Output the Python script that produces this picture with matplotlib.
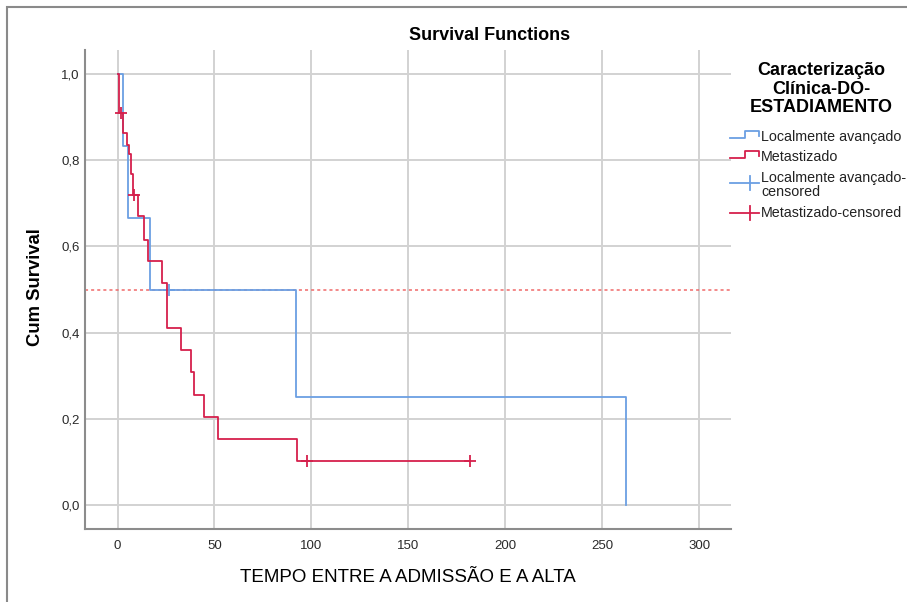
import matplotlib
matplotlib.use("Agg")
import matplotlib.pyplot as plt
from matplotlib.lines import Line2D
from matplotlib.patches import Rectangle

plt.rcParams['font.family'] = ['Liberation Sans', 'DejaVu Sans']

# Kaplan-Meier steps: time of each drop and survival level after it
loc_times = [0, 3.0, 5.6, 16.8, 91.9, 262.5]
loc_surv = [1.0, 0.833, 0.667, 0.5, 0.25, 0.0]
loc_cens_t = [26.7]
loc_cens_s = [0.5]

met_times = [0, 0.5, 2.6, 4.7, 5.7, 6.9, 8.1, 10.7, 13.8, 15.6, 22.8, 25.5,
             32.7, 38.0, 39.6, 44.8, 52.0, 92.7, 182.0]
met_surv = [1.0, 0.909, 0.864, 0.836, 0.815, 0.767, 0.72, 0.67, 0.615, 0.566,
            0.514, 0.411, 0.359, 0.308, 0.256, 0.205, 0.154, 0.103, 0.103]
met_cens_t = [1.6, 8.6, 97.6, 182.0]
met_cens_s = [0.909, 0.72, 0.103, 0.103]

median_ref = 0.5
xticks = [0, 50, 100, 150, 200, 250, 300]
yticks = [0.0, 0.2, 0.4, 0.6, 0.8, 1.0]
ytick_labels = ['0,0', '0,2', '0,4', '0,6', '0,8', '1,0']

blue = '#6b9fe3'
red = '#d5204c'

fig = plt.figure(figsize=(9.07, 6.02), dpi=100)
W, H = 907, 602
ax = fig.add_axes([85 / W, 1 - 529 / H, (731 - 85) / W, (529 - 50) / H])

ax.step(loc_times, loc_surv, where='post', color=blue, lw=1.3, zorder=3)
ax.step(met_times, met_surv, where='post', color=red, lw=1.3, zorder=4)
ax.plot(loc_cens_t, loc_cens_s, '+', color=blue, ms=9, mew=1.3, zorder=3)
ax.plot(met_cens_t, met_cens_s, '+', color=red, ms=9, mew=1.3, zorder=4)
ax.axhline(median_ref, color='#f06a6a', lw=1.1, ls=(0, (2, 2)), zorder=2)

ax.set_xlim(-16.8, 316.5)
ax.set_ylim(-0.056, 1.056)
ax.set_xticks(xticks)
ax.set_yticks(yticks)
ax.set_yticklabels(ytick_labels)
ax.tick_params(length=0, labelsize=9.5, labelcolor='#2a2a2a')
ax.tick_params(axis='x', pad=8)
ax.tick_params(axis='y', pad=4)
ax.grid(True, color='#d2d2d2', lw=1.4)
ax.set_axisbelow(True)
for side in ['top', 'right']:
    ax.spines[side].set_visible(False)
for side in ['left', 'bottom']:
    ax.spines[side].set_color('#8c8c8c')
    ax.spines[side].set_linewidth(1.5)

fig.text(490 / W, 1 - 35 / H, 'Survival Functions', ha='center', va='center',
         fontsize=13, fontweight='bold')
fig.text(36 / W, 1 - 287 / H, 'Cum Survival', ha='center', va='center',
         rotation=90, fontsize=13.3, fontweight='bold')
fig.text(408 / W, 1 - 578 / H, 'TEMPO ENTRE A ADMISSÃO E A ALTA', ha='center',
         va='center', fontsize=13.5)

# legend drawn by hand in figure pixels
fig.text(821 / W, 1 - 89 / H, 'Caracterização\nClínica-DO-\nESTADIAMENTO',
         ha='center', va='center', fontsize=13, fontweight='bold',
         linespacing=1.1)


def fx(x):
    return x / W


def fy(y):
    return 1 - y / H


def step_icon(y, color):
    xs = [730, 745, 745, 759, 759]
    ys = [y + 1, y + 1, y - 6, y - 6, y - 1]
    fig.add_artist(Line2D([fx(v) for v in xs], [fy(v) for v in ys],
                          color=color, lw=1.3, transform=fig.transFigure))


def cross_icon(y, color):
    fig.add_artist(Line2D([fx(730), fx(759)], [fy(y), fy(y)], color=color,
                          lw=1.3, transform=fig.transFigure))
    fig.add_artist(Line2D([fx(750), fx(750)], [fy(y - 7), fy(y + 7)],
                          color=color, lw=1.3, transform=fig.transFigure))


entry_kw = dict(ha='left', va='center', fontsize=10.3, color='#222222')
step_icon(137, blue)
fig.text(fx(761), fy(137), 'Localmente avançado', **entry_kw)
step_icon(157, red)
fig.text(fx(761), fy(157), 'Metastizado', **entry_kw)
cross_icon(183, blue)
fig.text(fx(761), fy(185), 'Localmente avançado-\ncensored', linespacing=1.05,
         **entry_kw)
cross_icon(213, red)
fig.text(fx(761), fy(213), 'Metastizado-censored', **entry_kw)

# outer frame of the chart
fig.add_artist(Rectangle((7 / W, -0.1), 1.2, 1 - 7 / H + 0.1, fill=False,
                         edgecolor='#8a8a8a', lw=1.5, transform=fig.transFigure))

fig.savefig('out.png', dpi=100)
